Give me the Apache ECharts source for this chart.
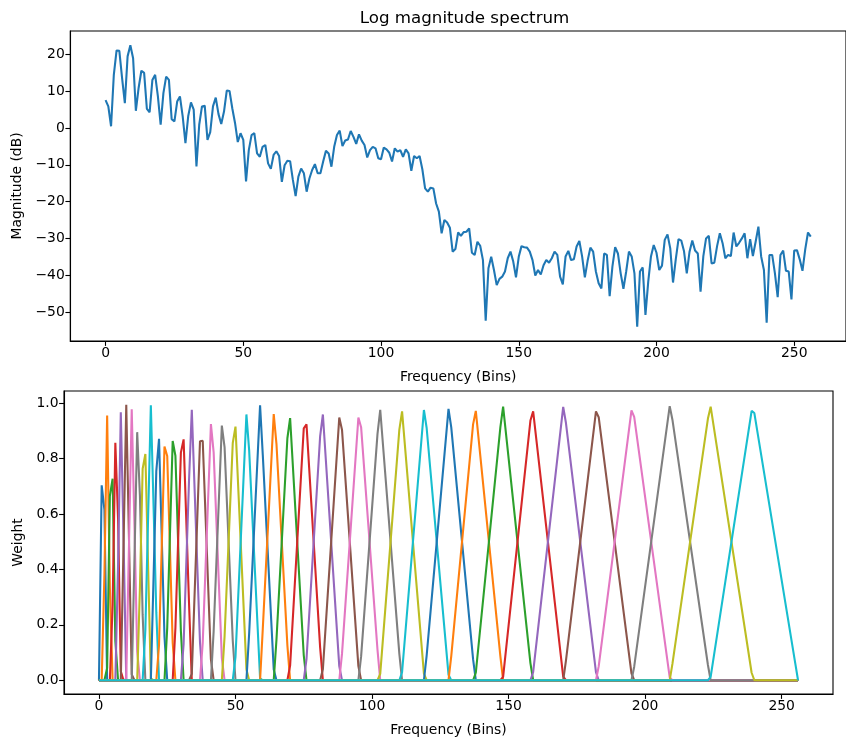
<!DOCTYPE html>
<html>
<head>
<meta charset="utf-8">
<script src="https://cdn.jsdelivr.net/npm/echarts@6/dist/echarts.min.js"></script>
<style>
  html, body { margin: 0; padding: 0; background: #fff; }
  #chart { width: 846px; height: 738px; }
</style>
</head>
<body>
<div id="chart"></div>
<script>
// log magnitude spectrum, one value per bin (0..256), dB
const spectrum = [
  7.6, 5.9, 0.5, 14.5, 21.1, 21.0, 13.6, 6.8, 19.5, 22.5,
  19.0, 4.7, 10.9, 15.6, 15.0, 5.2, 4.3, 13.1, 14.5, 8.6,
  0.9, 9.5, 14.0, 13.1, 2.4, 1.8, 7.2, 8.6, 3.2, -4.1,
  3.2, 7.0, 5.0, -10.4, 0.9, 5.9, 6.1, -3.2, -1.1, 5.9,
  8.3, 3.8, 1.1, 4.5, 10.2, 10.1, 5.4, 1.4, -3.8, -1.4,
  -3.2, -14.5, -6.0, -1.9, -1.4, -6.9, -7.8, -5.1, -4.6, -9.6,
  -11.1, -7.3, -6.3, -7.6, -14.6, -10.1, -8.9, -9.0, -14.1, -18.5,
  -13.2, -11.0, -12.3, -17.3, -13.7, -11.4, -9.8, -12.3, -12.3, -9.1,
  -6.2, -6.9, -10.5, -5.1, -1.9, -0.7, -4.9, -3.4, -3.1, -0.8,
  -2.4, -4.3, -1.7, -3.4, -4.6, -8.0, -6.0, -5.1, -5.5, -8.2,
  -8.5, -5.3, -5.8, -6.7, -9.1, -5.5, -6.4, -6.0, -7.8, -5.8,
  -6.9, -11.6, -7.6, -8.2, -7.6, -11.2, -16.4, -17.3, -16.2, -16.4,
  -20.5, -22.7, -28.6, -25.0, -25.7, -27.1, -33.6, -32.9, -28.4, -29.3,
  -28.3, -28.2, -27.3, -33.9, -34.5, -30.9, -32.0, -35.9, -52.4, -38.1,
  -35.0, -38.6, -42.7, -41.0, -40.4, -39.0, -35.4, -33.6, -36.3, -40.6,
  -35.0, -32.1, -32.4, -32.5, -33.6, -35.9, -40.1, -38.6, -39.8, -37.3,
  -35.9, -36.6, -35.4, -33.6, -34.5, -40.4, -42.5, -34.9, -33.4, -35.9,
  -35.7, -32.2, -30.7, -34.9, -40.6, -36.1, -32.5, -33.6, -39.0, -42.2,
  -43.6, -34.1, -34.5, -45.7, -37.7, -32.4, -34.1, -39.5, -43.7, -39.0,
  -33.6, -34.9, -39.5, -54.0, -39.0, -37.9, -50.8, -41.8, -34.9, -31.8,
  -33.9, -38.6, -37.4, -30.4, -28.9, -32.7, -42.0, -35.7, -30.2, -30.6,
  -33.5, -39.5, -33.6, -30.6, -33.3, -34.1, -44.5, -34.9, -30.0, -29.3,
  -36.8, -36.6, -32.1, -28.6, -31.3, -35.4, -34.5, -34.8, -28.4, -32.2,
  -31.2, -30.0, -28.6, -35.4, -30.2, -34.8, -30.9, -26.8, -34.9, -38.6,
  -52.9, -34.5, -34.5, -39.5, -46.0, -34.5, -33.3, -38.8, -39.0, -46.6,
  -33.3, -33.2, -35.7, -38.8, -33.0, -28.4, -29.5
]

// mel filterbank: for each of the 40 triangles, the last zero bin before it,
// the bin pair around its top, the first zero bin after it, and the weights there
const filterLow = [0, 1, 2, 4, 6, 8, 9, 12, 14, 16, 19, 21, 24, 27, 30, 33, 37, 41, 45, 49,
  54, 59, 64, 69, 75, 81, 88, 95, 102, 110, 119, 128, 137, 147, 158, 170, 182, 195, 209, 223]
const riseFirst = [0.704, 0.384, 0.044, 0.272, 0.417, 0.487, 0.005, 0.438, 0.333, 0.183,
  0.374, 0.128, 0.190, 0.189, 0.130, 0.023, 0.135, 0.177, 0.158, 0.084,
  0.169, 0.187, 0.146, 0.053, 0.076, 0.040, 0.095, 0.086, 0.023, 0.029,
  0.089, 0.086, 0.027, 0.012, 0.029, 0.070, 0.050, 0.049, 0.059, 0.012]
const peakBin = [1, 2, 4, 6, 8, 9, 12, 14, 16, 19, 21, 24, 27, 30, 33, 37, 41, 45, 49, 54,
  59, 64, 69, 75, 81, 88, 95, 102, 110, 119, 128, 137, 147, 158, 170, 182, 195, 209, 223, 239]
const peakLeft = [0.704, 0.384, 0.666, 0.858, 0.968, 0.487, 0.979, 0.896, 0.764, 0.993,
  0.755, 0.844, 0.864, 0.822, 0.726, 0.863, 0.925, 0.920, 0.857, 0.960,
  0.993, 0.961, 0.874, 0.910, 0.882, 0.949, 0.949, 0.890, 0.905, 0.976,
  0.980, 0.924, 0.914, 0.938, 0.987, 0.971, 0.975, 0.990, 0.945, 0.973]
const peakRight = [0.616, 0.956, 0.728, 0.583, 0.513, 0.995, 0.562, 0.667, 0.817, 0.626,
  0.872, 0.810, 0.811, 0.870, 0.977, 0.865, 0.823, 0.842, 0.916, 0.831,
  0.813, 0.854, 0.947, 0.924, 0.960, 0.905, 0.914, 0.977, 0.971, 0.911,
  0.914, 0.973, 0.988, 0.971, 0.930, 0.950, 0.951, 0.941, 0.988, 0.965]
const filterHigh = [3, 5, 7, 9, 10, 13, 15, 17, 20, 22, 25, 28, 31, 34, 38, 42, 46, 50, 55, 60,
  65, 70, 76, 82, 89, 96, 103, 111, 120, 129, 138, 148, 159, 171, 183, 196, 210, 224, 240, 256]
const fallLast = [0.616, 0.334, 0.142, 0.032, 0.513, 0.021, 0.104, 0.236, 0.007, 0.245,
  0.156, 0.136, 0.178, 0.274, 0.137, 0.075, 0.080, 0.143, 0.040, 0.007,
  0.039, 0.126, 0.090, 0.118, 0.051, 0.051, 0.110, 0.095, 0.024, 0.020,
  0.076, 0.086, 0.062, 0.013, 0.029, 0.025, 0.010, 0.055, 0.027, 0.060]

const lastBin = 256
const binTicks = [0, 50, 100, 150, 200, 250]
const dbTicks = [-50, -40, -30, -20, -10, 0, 10, 20]
const weightTicks = [0, 0.2, 0.4, 0.6, 0.8, 1.0]

const tab10 = ['#1f77b4', '#ff7f0e', '#2ca02c', '#d62728', '#9467bd',
  '#8c564b', '#e377c2', '#7f7f7f', '#bcbd22', '#17becf']

const font = 'DejaVu Sans'
const tickFont = 13.9
const lineWidth = 2.08

function axisBase (ticks, fmt) {
  return {
    type: 'value',
    splitLine: { show: false },
    axisLine: { show: true, onZero: false, lineStyle: { color: '#000', width: 1.1 } },
    axisTick: { show: true, customValues: ticks, length: 4.9, lineStyle: { color: '#000', width: 1.1 } },
    axisLabel: { customValues: ticks, margin: 5.5, color: '#000', fontFamily: font, fontSize: tickFont, formatter: fmt },
    nameTextStyle: { color: '#000', fontFamily: font, fontSize: tickFont },
    nameLocation: 'middle'
  }
}

const minus = v => String(v).replace('-', '\u2212')

const spectrumData = spectrum.map((v, i) => [i, v])

const filterSeries = filterLow.map((lo, i) => ({
  type: 'line',
  xAxisIndex: 1,
  yAxisIndex: 1,
  showSymbol: false,
  silent: true,
  color: tab10[i % 10],
  lineStyle: { color: tab10[i % 10], width: lineWidth },
  data: [
    [0, 0],
    [lo, 0],
    [lo + 1, riseFirst[i]],
    [peakBin[i], peakLeft[i]],
    [peakBin[i] + 1, peakRight[i]],
    [filterHigh[i] - 1, fallLast[i]],
    [filterHigh[i], 0],
    [lastBin, 0]
  ]
}))

const option = {
  animation: false,
  backgroundColor: '#fff',
  title: {
    text: 'Log magnitude spectrum',
    left: 459.5,
    top: 5,
    textAlign: 'center',
    textStyle: { fontFamily: font, fontSize: 16.7, fontWeight: 'normal', color: '#000' }
  },
  grid: [
    { left: 70.3, top: 31, width: 778.4, height: 310, show: true, borderColor: '#000', borderWidth: 1.1 },
    { left: 64, top: 391, width: 769, height: 304, show: true, borderColor: '#000', borderWidth: 1.1 }
  ],
  xAxis: [
    Object.assign(axisBase(binTicks), { gridIndex: 0, min: -12.8, max: 268.8, name: 'Frequency (Bins)', nameGap: 29 }),
    Object.assign(axisBase(binTicks), { gridIndex: 1, min: -12.8, max: 268.8, name: 'Frequency (Bins)', nameGap: 29 })
  ],
  yAxis: [
    Object.assign(axisBase(dbTicks, minus), { gridIndex: 0, min: -57.9, max: 26.4, name: 'Magnitude (dB)', nameGap: 45 }),
    Object.assign(axisBase(weightTicks, v => v.toFixed(1)), { gridIndex: 1, min: -0.0497, max: 1.0447, name: 'Weight', nameGap: 39 })
  ],
  series: [
    {
      type: 'line',
      xAxisIndex: 0,
      yAxisIndex: 0,
      showSymbol: false,
      silent: true,
      color: tab10[0],
      lineStyle: { color: tab10[0], width: lineWidth },
      data: spectrumData
    }
  ].concat(filterSeries)
}

const chart = echarts.init(document.getElementById('chart'), null, { renderer: 'canvas' })
chart.setOption(option)
</script>
</body>
</html>
